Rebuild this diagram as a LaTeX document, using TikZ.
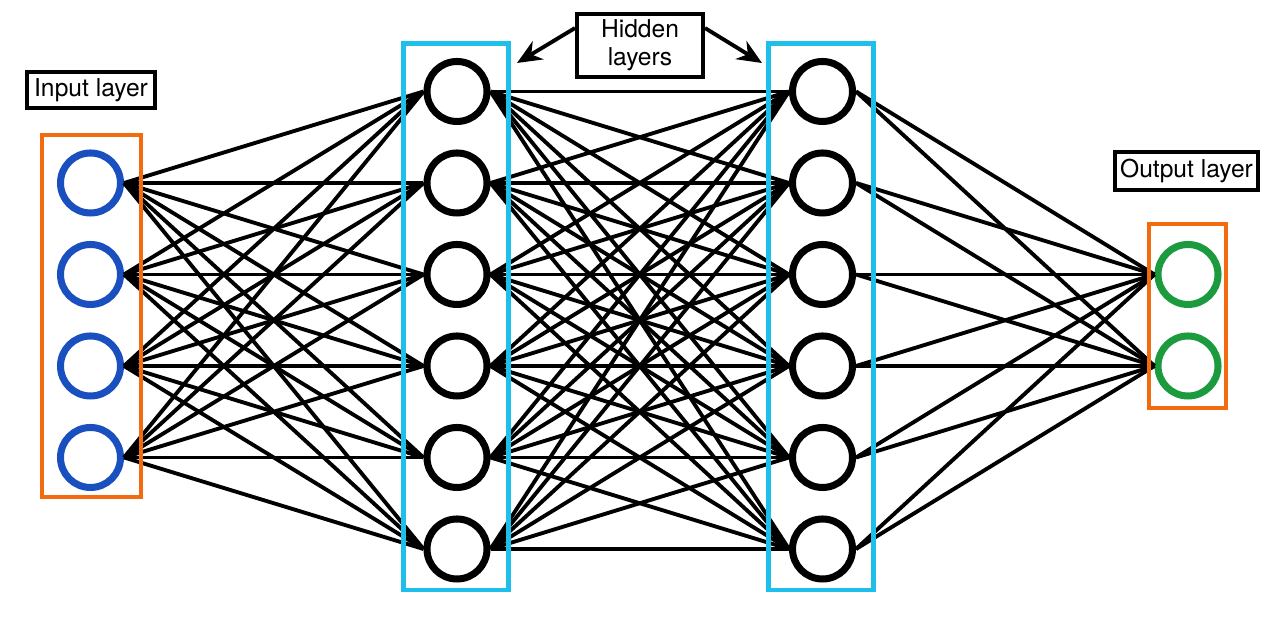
\documentclass[tikz,border=0pt]{standalone}
\usepackage{fontspec}
\setmainfont{TeX Gyre Heros}
\definecolor{NetOrange}{HTML}{F26B0F}
\definecolor{NetCyan}{HTML}{1EBFEA}
\definecolor{NetBlue}{HTML}{1A4FC0}
\definecolor{NetGreen}{HTML}{1C9A3E}
\usetikzlibrary{arrows.meta}

\begin{document}
\begin{tikzpicture}[>={Stealth[length=14pt, width=12pt]},
  neuron/.style={circle, draw, line width=4pt, fill=white,
                 minimum size=1.2cm, inner sep=0pt},
  wire/.style={line width=2.2pt, black},
  layerbox/.style={line width=2.3pt},
  tag/.style={draw, line width=2.3pt, inner sep=0pt, align=center,
              font=\fontsize{14}{16}\selectfont}]
  \useasboundingbox (0,0) rectangle (25.6,12.8);
  % neurons
  \foreach \i in {1,...,4}
    \node[neuron, draw=NetBlue] (in\i) at (1.81, {12.8-1.83*(\i+1)}) {};
  \foreach \j in {1,...,6} {
    \node[neuron, draw=black] (ha\j) at (9.14, {12.8-1.83*\j}) {};
    \node[neuron, draw=black] (hb\j) at (16.45, {12.8-1.83*\j}) {};
  }
  \foreach \k in {1,2}
    \node[neuron, draw=NetGreen] (out\k) at (23.76, {12.8-1.83*(\k+2)}) {};
  % connections
  \foreach \i in {1,...,4}
    \foreach \j in {1,...,6}
      \draw[wire] (in\i.east) -- (ha\j.west);
  \foreach \i in {1,...,6}
    \foreach \j in {1,...,6}
      \draw[wire] (ha\i.east) -- (hb\j.west);
  \foreach \i in {1,...,6}
    \foreach \k in {1,2}
      \draw[wire] (hb\i.east) -- (out\k.west);
  % layer frames
  \draw[layerbox, NetOrange] (0.84, 2.86) rectangle (2.82, 10.10);
  \draw[layerbox, NetCyan] (8.07, 1.00) rectangle (10.17, 11.93);
  \draw[layerbox, NetCyan] (15.37, 1.00) rectangle (17.47, 11.93);
  \draw[layerbox, NetOrange] (22.98, 4.64) rectangle (24.52, 8.32);
  % labels
  \node[tag, minimum width=2.56cm, minimum height=0.72cm] (inlab)
    at (1.82, 11.0) {Input layer};
  \node[tag, minimum width=2.52cm, minimum height=1.26cm] (hidlab)
    at (12.8, 11.89) {Hidden\\layers};
  \node[tag, minimum width=2.86cm, minimum height=0.76cm] (outlab)
    at (23.73, 9.38) {Output layer};
  \coordinate (tipa) at (10.34, 11.54);
  \coordinate (tipb) at (15.24, 11.54);
  \draw[->, line width=2.2pt] (hidlab.165) -- (tipa);
  \draw[->, line width=2.2pt] (hidlab.15) -- (tipb);
\end{tikzpicture}
\end{document}
